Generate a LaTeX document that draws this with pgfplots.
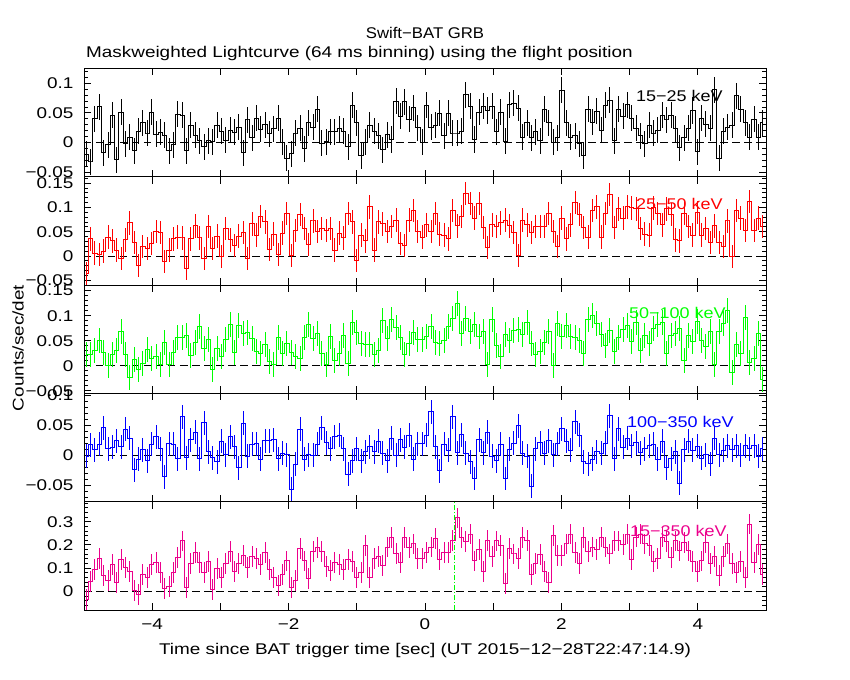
\documentclass[border=0pt]{standalone}
\usepackage{fontspec}
\setmainfont{Liberation Sans}[FakeStretch=1.22]
\newfontfamily\efamily{Liberation Sans}[FakeStretch=1.08]
\newfontfamily\bfamily{Liberation Sans}[FakeStretch=1.16]
\usepackage{pgfplots}
\usepackage{pgfplotstable}
\pgfplotsset{compat=1.18}

% 15-25 keV
\pgfplotstableread[row sep=\\]{
y\\
-0.020\\ -0.033\\ 0.040\\ 0.060\\ -0.017\\ -0.004\\ 0.046\\ -0.029\\ 0.051\\ -0.002\\
0.009\\ -0.014\\ 0.019\\ 0.033\\ 0.016\\ 0.051\\ 0.014\\ 0.017\\ 0.012\\ -0.014\\
-0.004\\ 0.048\\ 0.046\\ -0.014\\ 0.029\\ 0.012\\ 0.003\\ -0.007\\ 0.003\\ 0.001\\
0.029\\ 0.019\\ 0.004\\ 0.021\\ 0.017\\ 0.026\\ -0.017\\ 0.038\\ 0.008\\ 0.041\\
0.022\\ 0.030\\
0.015\\ 0.023\\ 0.041\\ 0.000\\ -0.027\\ -0.019\\ 0.016\\ 0.024\\ -0.011\\ 0.033\\
0.026\\ 0.056\\ -0.001\\ 0.001\\ 0.018\\ 0.018\\ 0.023\\ 0.019\\ -0.007\\ 0.063\\
0.033\\ -0.022\\ 0.000\\ 0.029\\ 0.019\\ 0.011\\ -0.012\\ 0.013\\ 0.005\\ 0.070\\
0.044\\ 0.069\\ 0.039\\ 0.059\\
0.025\\ 0.000\\ 0.063\\ 0.026\\ 0.029\\ 0.049\\ 0.011\\ 0.049\\ 0.016\\ 0.016\\
0.019\\ 0.081\\ 0.061\\ 0.005\\ 0.051\\ 0.061\\ 0.054\\ 0.061\\ 0.018\\ 0.051\\
0.002\\ 0.064\\ 0.066\\ 0.058\\ 0.009\\ 0.033\\ 0.008\\ 0.018\\ 0.003\\ 0.056\\
0.033\\ 0.000\\ 0.008\\ 0.088\\ 0.033\\ 0.009\\ 0.011\\ -0.002\\ -0.022\\ 0.056\\
0.034\\ 0.053\\ 0.021\\ 0.063\\ 0.071\\ 0.003\\ 0.056\\ 0.044\\ 0.064\\ 0.041\\
0.024\\ 0.011\\ -0.002\\ 0.029\\ 0.016\\ 0.021\\ 0.046\\ 0.038\\ 0.046\\ 0.023\\
-0.009\\ 0.008\\ 0.024\\ 0.054\\ -0.016\\ 0.041\\ 0.031\\ 0.024\\ 0.089\\ -0.027\\
0.019\\ 0.026\\ 0.029\\ 0.079\\ 0.056\\ 0.033\\ 0.009\\ 0.039\\ 0.009\\ 0.033\\
}\pA

% 25-50 keV
\pgfplotstableread[row sep=\\]{
y\\
-0.036\\ 0.035\\ 0.006\\ 0.003\\ 0.010\\ 0.039\\ 0.031\\ 0.012\\ -0.005\\ 0.033\\
0.068\\ 0.028\\ -0.019\\ 0.020\\ 0.016\\ 0.026\\ 0.051\\ 0.049\\ -0.011\\ 0.012\\
0.035\\ 0.039\\ 0.037\\ -0.026\\ 0.035\\ 0.062\\ 0.037\\ -0.005\\ 0.060\\ 0.016\\
0.041\\ -0.001\\ 0.056\\ 0.033\\ 0.022\\ 0.041\\ 0.049\\ -0.005\\ 0.066\\ 0.043\\
0.081\\ 0.070\\ 0.014\\ 0.045\\ 0.003\\ 0.047\\ 0.087\\ 0.001\\ 0.053\\ 0.085\\
0.056\\ 0.024\\ 0.072\\ 0.051\\ 0.056\\ 0.053\\ 0.056\\ 0.012\\ 0.047\\ 0.037\\
0.087\\ 0.070\\ -0.009\\ 0.043\\ 0.031\\ 0.101\\ 0.012\\ 0.070\\ 0.066\\ 0.051\\
0.060\\ 0.074\\ 0.026\\ 0.022\\ 0.074\\ 0.093\\ 0.051\\ 0.039\\ 0.064\\
0.051\\ 0.087\\ 0.045\\ 0.043\\ 0.035\\ 0.093\\ 0.062\\ 0.081\\ 0.128\\ 0.108\\
0.078\\ 0.108\\ 0.058\\ 0.018\\ 0.064\\ 0.060\\ 0.068\\ 0.074\\ 0.062\\ 0.049\\
0.001\\ 0.074\\ 0.064\\ 0.049\\ 0.060\\ 0.060\\ 0.060\\ 0.087\\ 0.051\\ 0.020\\
0.078\\ 0.035\\ 0.064\\ 0.110\\ 0.085\\ 0.058\\ 0.039\\ 0.093\\ 0.101\\ 0.039\\
0.087\\ 0.127\\ 0.058\\ 0.097\\ 0.078\\ 0.101\\ 0.099\\ 0.097\\ 0.056\\ 0.045\\
0.043\\ 0.099\\ 0.087\\ 0.064\\ 0.097\\ 0.085\\ 0.033\\ 0.031\\ 0.087\\ 0.060\\
0.043\\ 0.089\\ 0.043\\ 0.056\\ 0.028\\ 0.062\\ 0.028\\ 0.020\\ 0.072\\ -0.001\\
0.094\\ 0.078\\ 0.053\\ 0.112\\ 0.053\\ 0.078\\ 0.060\\
}\pB

% 50-100 keV
\pgfplotstableread[row sep=\\]{
y\\
0.022\\ 0.023\\ 0.031\\ 0.050\\ 0.027\\ 0.000\\ 0.022\\ 0.031\\ 0.068\\ 0.023\\
-0.024\\ 0.013\\ -0.007\\ 0.005\\ 0.033\\ 0.015\\ 0.019\\ 0.002\\ 0.046\\ 0.002\\
0.027\\ 0.056\\ 0.056\\ 0.060\\ 0.021\\ 0.046\\ 0.078\\ 0.035\\ 0.052\\ -0.007\\
0.035\\ 0.019\\ 0.052\\ 0.082\\ 0.027\\ 0.080\\ 0.064\\ 0.066\\ 0.054\\ 0.029\\
0.025\\ 0.042\\ 0.009\\ 0.002\\ 0.056\\ 0.025\\ 0.044\\ 0.027\\ 0.019\\ 0.015\\
0.056\\ 0.082\\ 0.054\\ 0.064\\ 0.025\\ 0.003\\ 0.058\\ 0.011\\ 0.025\\ 0.060\\
0.005\\ 0.086\\ 0.066\\ 0.044\\ 0.042\\ 0.042\\ 0.023\\ 0.031\\ 0.090\\ 0.054\\
0.093\\ 0.076\\ 0.056\\ 0.022\\ 0.044\\ 0.066\\ 0.052\\
0.052\\ 0.058\\ 0.078\\ 0.046\\ 0.044\\ 0.050\\ 0.078\\ 0.095\\ 0.125\\ 0.064\\
0.095\\ 0.068\\ 0.082\\ 0.058\\ 0.068\\ 0.003\\ 0.092\\ 0.041\\ 0.019\\ 0.062\\
0.050\\ 0.070\\
0.072\\ 0.062\\ 0.086\\ 0.044\\ 0.023\\ 0.029\\ 0.046\\ 0.068\\ 0.001\\ 0.084\\
0.058\\ 0.080\\ 0.058\\ 0.056\\ 0.050\\ 0.025\\ 0.093\\ 0.101\\ 0.084\\ 0.062\\
0.040\\ 0.070\\
0.029\\ 0.056\\ 0.072\\ 0.080\\ 0.048\\ 0.086\\ 0.031\\ 0.060\\ 0.045\\ 0.074\\
0.082\\ 0.086\\ 0.024\\ 0.060\\ 0.064\\ 0.074\\ 0.011\\ 0.060\\ 0.048\\ 0.088\\
0.050\\
0.039\\ 0.068\\ 0.003\\ 0.068\\ 0.084\\ 0.110\\ -0.013\\ 0.042\\ 0.025\\ 0.097\\
0.007\\ 0.015\\ 0.064\\ -0.027\\
}\pC

% 100-350 keV
\pgfplotstableread[row sep=\\]{
y\\
-0.002\\ 0.017\\ 0.009\\ 0.018\\ 0.046\\ 0.011\\ 0.013\\ 0.024\\ 0.014\\ 0.043\\
0.028\\ -0.024\\ -0.007\\ 0.009\\ -0.009\\ 0.018\\ 0.031\\ 0.011\\ -0.036\\ 0.019\\
0.018\\ -0.006\\ 0.064\\ -0.004\\ 0.026\\ 0.038\\ -0.006\\ 0.054\\ 0.006\\ -0.004\\
-0.011\\ 0.023\\ 0.001\\ 0.031\\ 0.014\\ -0.021\\ 0.053\\ -0.002\\ 0.018\\ 0.019\\
-0.007\\ 0.024\\ 0.024\\ 0.026\\ -0.006\\ 0.003\\ 0.001\\ -0.057\\ -0.015\\ 0.043\\
-0.007\\ 0.001\\ 0.000\\ 0.018\\ 0.046\\ 0.021\\ 0.011\\ 0.031\\ 0.033\\ 0.011\\
-0.032\\ -0.009\\ 0.011\\ -0.009\\ 0.006\\ 0.014\\ 0.006\\ 0.023\\ 0.003\\ -0.009\\
0.028\\ 0.000\\ 0.026\\ 0.013\\ 0.033\\ -0.007\\ 0.019\\
0.019\\ 0.033\\ 0.072\\ 0.014\\ -0.026\\ 0.018\\ 0.008\\ 0.064\\ 0.004\\ 0.034\\
0.003\\ -0.011\\ -0.039\\ 0.026\\ 0.004\\ 0.038\\ -0.002\\ -0.009\\ 0.018\\ -0.039\\
0.010\\ 0.020\\
0.049\\ 0.003\\ -0.002\\ -0.052\\ 0.011\\ 0.021\\ 0.003\\ 0.024\\ 0.001\\ 0.019\\
0.044\\ 0.023\\ 0.008\\ 0.056\\ 0.033\\ -0.011\\ -0.014\\ -0.007\\ 0.006\\ 0.003\\
0.020\\
0.066\\ -0.006\\ 0.044\\ 0.013\\ 0.028\\ 0.016\\ 0.021\\ 0.004\\ 0.011\\ 0.016\\
0.018\\ -0.007\\ 0.023\\ -0.021\\ -0.006\\ 0.006\\ -0.047\\ 0.009\\ 0.023\\ 0.008\\
0.015\\ -0.005\\
0.001\\ -0.014\\ 0.028\\ 0.001\\ 0.008\\ 0.016\\ 0.009\\ 0.016\\ 0.000\\ 0.016\\
0.011\\ 0.016\\ -0.002\\ 0.011\\
}\pD

% 15-350 keV
\pgfplotstableread[row sep=\\]{
y\\
-0.034\\ 0.043\\ 0.093\\ 0.140\\ 0.067\\ 0.046\\ 0.114\\ 0.037\\ 0.136\\ 0.101\\
0.086\\ 0.003\\ -0.014\\ 0.071\\ 0.059\\ 0.114\\ 0.123\\ 0.080\\ 0.011\\ 0.020\\
0.081\\ 0.144\\ 0.217\\ 0.016\\ 0.119\\ 0.166\\ 0.123\\ 0.080\\ 0.127\\ 0.007\\
0.097\\ 0.059\\ 0.119\\ 0.170\\ 0.084\\ 0.119\\ 0.153\\ 0.101\\ 0.149\\ 0.140\\
0.114\\ 0.166\\ 0.093\\ 0.059\\ 0.024\\ 0.071\\ 0.131\\ 0.016\\ 0.046\\ 0.183\\
0.131\\ 0.054\\ 0.170\\ 0.187\\ 0.170\\ 0.106\\ 0.089\\ 0.123\\ 0.114\\ 0.093\\
0.136\\ 0.127\\ 0.059\\ 0.080\\ 0.196\\ 0.059\\ 0.140\\ 0.149\\ 0.110\\ 0.191\\
0.230\\ 0.163\\ 0.123\\ 0.230\\ 0.187\\ 0.204\\ 0.140\\
0.140\\ 0.166\\ 0.191\\ 0.226\\ 0.136\\ 0.166\\ 0.166\\ 0.221\\ 0.316\\ 0.230\\
0.213\\ 0.247\\ 0.131\\ 0.179\\ 0.087\\ 0.221\\ 0.149\\ 0.217\\ 0.196\\ 0.033\\
0.183\\ 0.161\\ 0.140\\ 0.230\\ 0.221\\ 0.071\\ 0.119\\ 0.157\\ 0.086\\ 0.037\\
0.239\\ 0.153\\ 0.153\\ 0.204\\ 0.247\\ 0.166\\ 0.119\\ 0.230\\ 0.170\\ 0.191\\
0.180\\
0.234\\ 0.191\\ 0.161\\ 0.217\\ 0.217\\ 0.200\\ 0.247\\ 0.136\\ 0.234\\ 0.247\\
0.204\\ 0.196\\ 0.127\\ 0.140\\ 0.234\\ 0.213\\ 0.144\\ 0.217\\ 0.174\\ 0.209\\
0.174\\ 0.127\\ 0.084\\ 0.131\\ 0.209\\ 0.119\\ 0.149\\ 0.067\\ 0.149\\ 0.204\\
0.119\\ 0.080\\ 0.127\\ 0.059\\ 0.290\\ 0.123\\ 0.200\\ 0.071\\
}\pE

\newcommand{\lfont}{\fontsize{15.5bp}{18bp}\selectfont}
\newcommand{\efont}{\efamily\fontsize{15.5bp}{18bp}\selectfont}
\newcommand{\bfont}{\bfamily\fontsize{15.5bp}{18bp}\selectfont}
\newcommand{\tl}[1]{{\lfont #1}}

\pgfplotsset{
  panel/.style={
    scale only axis, width=682bp, height=108.3bp,
    anchor=south west,
    xmin=-5, xmax=5,
    xtick={-4,-3,...,4}, xticklabels={},
    scaled y ticks=false,
    axis line style={line width=0.9bp},
    every tick/.style={line width=0.9bp, black},
    major tick length=7bp, minor tick length=4bp,
    tick align=inside,
    yticklabel style={xshift=-7bp},
    clip=true,
  },
  zeroline/.style={black, line width=0.9bp, dash pattern=on 7.5bp off 4.5bp},
  lc/.style={#1, line width=1bp, const plot mark mid,
    error bars/.cd, y dir=both, y explicit, error mark=none,
    error bar style={line width=1bp, #1}},
}

\begin{document}
\begin{tikzpicture}
\useasboundingbox (-84bp,-70bp) rectangle (766bp,610bp);

% panel 1
\begin{axis}[panel, at={(0bp,433.2bp)},
  ymin=-0.058, ymax=0.125,
  ytick={-0.05,0,0.05,0.1}, yticklabels={\tl{−0.05},\tl{0},\tl{0.05},\tl{0.1}},
  minor ytick={-0.05,-0.04,...,0.12}]
\addplot[zeroline] coordinates {(-5,0) (5,0)};
\addplot[lc=black] table[x expr={-5+0.064*(\coordindex+0.5)}, y=y, y error expr=0.022] {\pA};
\end{axis}

% panel 2
\begin{axis}[panel, at={(0bp,324.9bp)},
  ymin=-0.060, ymax=0.163,
  ytick={-0.05,0,0.05,0.1,0.15}, yticklabels={\tl{−0.05},\tl{0},\tl{0.05},\tl{0.1},\tl{0.15}},
  minor ytick={-0.06,-0.05,...,0.16}]
\addplot[zeroline] coordinates {(-5,0) (5,0)};
\addplot[lc=red] table[x expr={-5+0.064*(\coordindex+0.5)}, y=y, y error expr=0.024] {\pB};
\end{axis}

% panel 3
\begin{axis}[panel, at={(0bp,216.6bp)},
  ymin=-0.055, ymax=0.161,
  ytick={-0.05,0,0.05,0.1,0.15}, yticklabels={\tl{−0.05},\tl{0},\tl{0.05},\tl{0.1},\tl{0.15}},
  minor ytick={-0.05,-0.04,...,0.16}]
\addplot[zeroline] coordinates {(-5,0) (5,0)};
\addplot[lc=green] table[x expr={-5+0.064*(\coordindex+0.5)}, y=y, y error expr=0.025] {\pC};
\end{axis}

% panel 4
\begin{axis}[panel, at={(0bp,108.3bp)},
  ymin=-0.0777, ymax=0.103,
  ytick={-0.05,0,0.05,0.1}, yticklabels={\tl{−0.05},\tl{0},\tl{0.05},\tl{0.1}},
  minor ytick={-0.07,-0.06,...,0.1}]
\addplot[zeroline] coordinates {(-5,0) (5,0)};
\addplot[lc=blue] table[x expr={-5+0.064*(\coordindex+0.5)}, y=y, y error expr=0.020] {\pD};
\end{axis}

% panel 5
\begin{axis}[panel, at={(0bp,0bp)},
  ymin=-0.080, ymax=0.386,
  ytick={0,0.1,0.2,0.3}, yticklabels={\tl{0},\tl{0.1},\tl{0.2},\tl{0.3}},
  minor ytick={-0.08,-0.06,...,0.38},
  xticklabels={\tl{−4},,\tl{−2},,\tl{0},,\tl{2},,\tl{4}},
  xticklabel style={yshift=-5bp}]
\addplot[zeroline] coordinates {(-5,0) (5,0)};
\addplot[lc=magenta] table[x expr={-5+0.064*(\coordindex+0.5)}, y=y, y error expr=0.045] {\pE};
\addplot[green, line width=1bp, dash pattern=on 5bp off 2bp on 1bp off 2bp] coordinates {(0.432,-0.08) (0.432,0.386)};
\end{axis}

% energy band labels
\node[anchor=west, text=black, font=\bfont, inner sep=0pt] at (552bp,514bp) {15−25 keV};
\node[anchor=west, text=red, font=\bfont, inner sep=0pt] at (552bp,406bp) {25−50 keV};
\node[anchor=west, text=green, font=\bfont, inner sep=0pt] at (545bp,297bp) {50−100 keV};
\node[anchor=west, text=blue, font=\bfont, inner sep=0pt] at (543bp,188bp) {100−350 keV};
\node[anchor=west, text=magenta, font=\bfont, inner sep=0pt] at (546bp,79bp) {15−350 keV};

% titles and axis labels
\node[font=\efont, inner sep=0pt] at (341bp,577bp) {Swift−BAT GRB};
\node[anchor=west, font=\lfont, inner sep=0pt] at (2bp,557bp) {Maskweighted Lightcurve (64 ms binning) using the flight position};
\node[font=\lfont, inner sep=0pt, rotate=90] at (-66bp,262bp) {Counts/sec/det};
\node[font=\lfont, inner sep=0pt] at (341bp,-40bp) {Time since BAT trigger time [sec] (UT 2015−12−28T22:47:14.9)};
\end{tikzpicture}
\end{document}
